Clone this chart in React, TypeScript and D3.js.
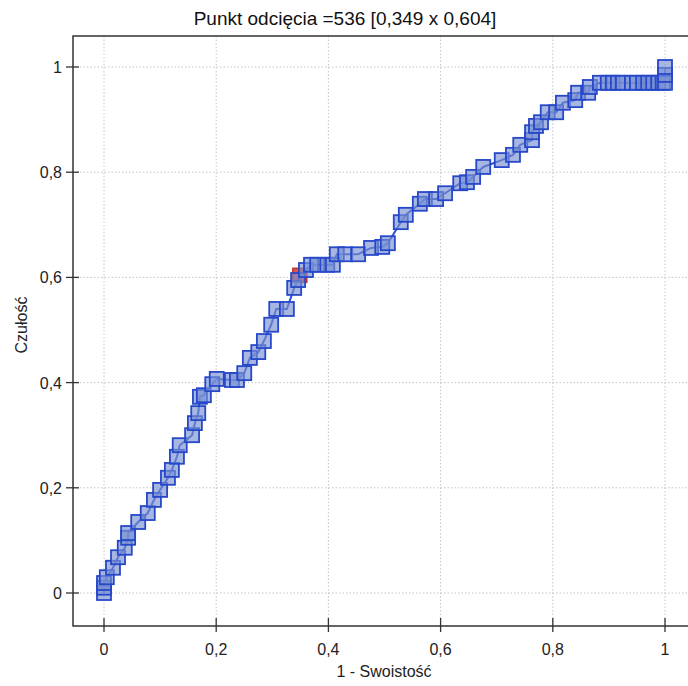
import React from "react";
import * as d3 from "d3";

// 1 - specificity (x) and sensitivity (y)
const fpr = [
  0, 0, 0, 0.005, 0.016, 0.025, 0.037, 0.043, 0.043, 0.061, 0.078, 0.089, 0.1,
  0.114, 0.121, 0.13, 0.135, 0.157, 0.162, 0.168, 0.171, 0.178, 0.193, 0.201,
  0.228, 0.237, 0.25, 0.26, 0.275, 0.285, 0.298, 0.307, 0.326, 0.339, 0.346,
  0.36, 0.369, 0.38, 0.398, 0.408, 0.415, 0.43, 0.453, 0.476, 0.496, 0.506,
  0.529, 0.538, 0.563, 0.572, 0.592, 0.608, 0.635, 0.647, 0.658, 0.676, 0.709,
  0.729, 0.742, 0.763, 0.763, 0.77, 0.779, 0.791, 0.806, 0.818, 0.84, 0.845,
  0.863, 0.866, 0.884, 0.898, 0.907, 0.916, 0.925, 0.941, 0.95, 0.961, 0.97,
  0.979, 0.988, 0.996, 1, 1, 1,
];
const tpr = [
  0, 0.01, 0.019, 0.03, 0.048, 0.068, 0.086, 0.105, 0.114, 0.135, 0.152, 0.177,
  0.196, 0.219, 0.234, 0.259, 0.281, 0.3, 0.323, 0.342, 0.373, 0.376, 0.397,
  0.407, 0.405, 0.405, 0.418, 0.447, 0.458, 0.479, 0.51, 0.54, 0.54, 0.58,
  0.595, 0.614, 0.624, 0.624, 0.624, 0.624, 0.644, 0.644, 0.644, 0.656, 0.658,
  0.665, 0.705, 0.719, 0.74, 0.749, 0.749, 0.76, 0.779, 0.781, 0.791, 0.81,
  0.823, 0.833, 0.852, 0.861, 0.876, 0.888, 0.895, 0.914, 0.914, 0.932, 0.937,
  0.951, 0.951, 0.962, 0.97, 0.97, 0.97, 0.97, 0.97, 0.97, 0.97, 0.97, 0.97,
  0.97, 0.97, 0.97, 0.97, 0.985, 1,
];
const cutX = 0.349;
const cutY = 0.604;
const xTicks = [0, 0.2, 0.4, 0.6, 0.8, 1];
const yTicks = [0, 0.2, 0.4, 0.6, 0.8, 1];

const fmt = (v: number) => String(v).replace(".", ",");

export default function App() {
  const width = 688;
  const height = 686;
  const frame = { left: 73, top: 36, bottom: 626, right: 695 };

  const x = d3.scaleLinear().domain([0, 1]).range([104, 665]);
  const y = d3.scaleLinear().domain([0, 1]).range([593, 67]);

  const pts = fpr.map((v, i) => [v, tpr[i]] as [number, number]);
  const line = d3
    .line<[number, number]>()
    .x((d) => x(d[0]))
    .y((d) => y(d[1]));

  const sq = 14;
  const font = "'Liberation Sans', Arial, sans-serif";

  return (
    <svg
      width={width}
      height={height}
      style={{ position: "absolute", left: 0, top: 0, background: "#fff" }}
    >
      <text
        x={345}
        y={25}
        textAnchor="middle"
        fontFamily={font}
        fontSize={19}
        fill="#111"
      >
        Punkt odcięcia =536 [0,349 x 0,604]
      </text>

      {/* grid */}
      {xTicks.map((t) => (
        <line
          key={"gx" + t}
          x1={x(t)}
          x2={x(t)}
          y1={frame.top}
          y2={frame.bottom}
          stroke="#c4c4c4"
          strokeDasharray="1.5,2"
        />
      ))}
      {yTicks.map((t) => (
        <line
          key={"gy" + t}
          x1={frame.left}
          x2={frame.right}
          y1={y(t)}
          y2={y(t)}
          stroke="#c4c4c4"
          strokeDasharray="1.5,2"
        />
      ))}

      {/* frame */}
      <path
        d={`M${frame.right},${frame.top}H${frame.left}V${frame.bottom}H${frame.right}`}
        fill="none"
        stroke="#333"
        strokeWidth={1.5}
      />

      {/* ticks and labels */}
      {yTicks.map((t) => (
        <g key={"ty" + t}>
          <line x1={66} x2={79} y1={y(t)} y2={y(t)} stroke="#333" strokeWidth={1.3} />
          <text
            x={62}
            y={y(t) + 6}
            textAnchor="end"
            fontFamily={font}
            fontSize={16}
            fill="#222"
          >
            {fmt(t)}
          </text>
        </g>
      ))}
      {xTicks.map((t) => (
        <g key={"tx" + t}>
          <line x1={x(t)} x2={x(t)} y1={618} y2={632} stroke="#333" strokeWidth={1.3} />
          <text
            x={x(t)}
            y={655}
            textAnchor="middle"
            fontFamily={font}
            fontSize={16}
            fill="#222"
          >
            {fmt(t)}
          </text>
        </g>
      ))}

      <text
        x={384}
        y={677}
        textAnchor="middle"
        fontFamily={font}
        fontSize={16}
        fill="#222"
      >
        1 - Swoistość
      </text>
      <text
        transform={`translate(27,${325}) rotate(-90)`}
        textAnchor="middle"
        fontFamily={font}
        fontSize={16}
        fill="#222"
      >
        Czułość
      </text>

      {/* cutoff marker */}
      <rect
        x={x(cutX) - sq / 2}
        y={y(cutY) - sq / 2}
        width={sq}
        height={sq}
        fill="#d9534f"
        stroke="#c0392b"
        strokeWidth={1.5}
      />

      {/* curve */}
      <path d={line(pts) || ""} fill="none" stroke="#2c4fcc" strokeWidth={2} />
      {pts.map((d, i) => (
        <rect
          key={i}
          x={x(d[0]) - sq / 2}
          y={y(d[1]) - sq / 2}
          width={sq}
          height={sq}
          fill="rgba(120,145,210,0.65)"
          stroke="#2748c9"
          strokeWidth={1.8}
        />
      ))}
    </svg>
  );
}
